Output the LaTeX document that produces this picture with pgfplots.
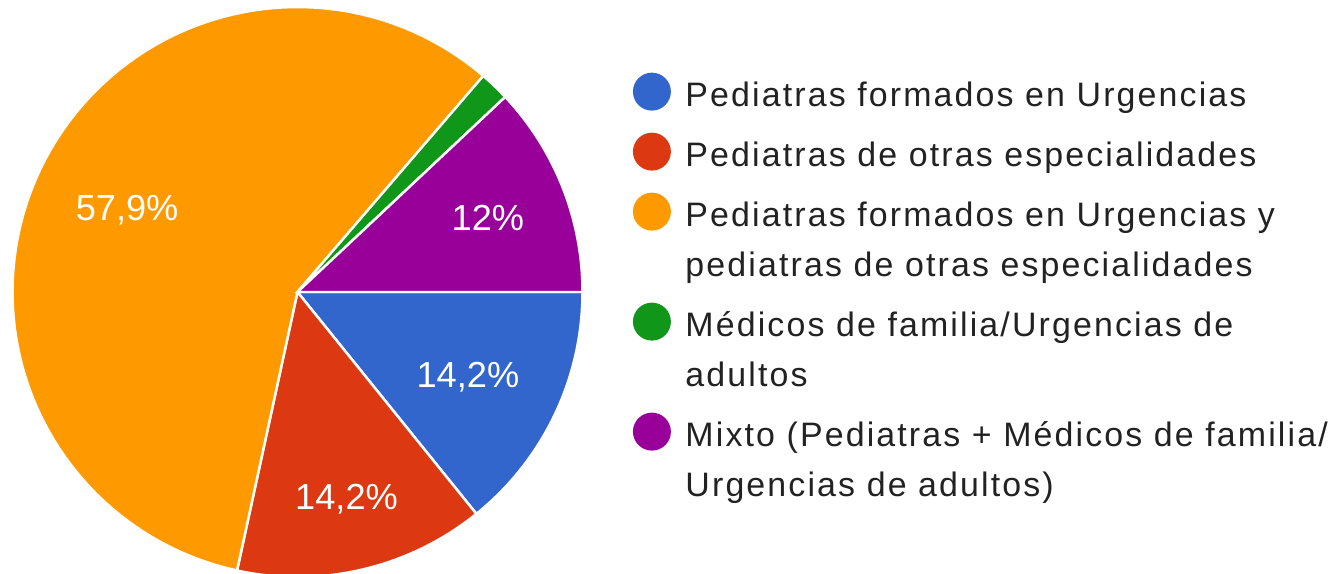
\documentclass[border=0pt]{standalone}
\usepackage{fontspec}
\setmainfont{Liberation Sans}
\newfontfamily\legfont[LetterSpace=6.3]{Liberation Sans}
\usepackage{pgfplots}
\pgfplotsset{compat=1.18}

\definecolor{gblue}{HTML}{3366CC}
\definecolor{gred}{HTML}{DC3912}
\definecolor{gorange}{HTML}{FF9900}
\definecolor{ggreen}{HTML}{109618}
\definecolor{gpurple}{HTML}{990099}
\definecolor{legtext}{HTML}{222222}

% one slice: colour, cumulative share at start and at end (percent),
% running clockwise from 3 o'clock
\newcommand{\slice}[3]{%
  \addplot[fill=#1, draw=white, line width=0.7pt,
    domain={-3.6*#3}:{-3.6*#2}, samples=90]
    ({cos(x)}, {sin(x)}) -- (axis cs:0,0) -- cycle;}

\newcommand{\entry}[1]{\begin{tabular}[t]{@{}l@{}}#1\end{tabular}}

\begin{document}
\begin{tikzpicture}
\useasboundingbox (0,0) rectangle (13.44cm,5.73cm);
\begin{axis}[
    at={(2.975cm,2.81cm)}, anchor=center,
    width=5.70cm, height=5.70cm, scale only axis,
    xmin=-1, xmax=1, ymin=-1, ymax=1,
    hide axis, clip=false,
    legend image code/.code={%
      \fill[#1, draw=none] (5.4pt,4.3pt) circle[radius=5.4pt];
      \path (0,0) (14.6pt,0);},
    legend style={
      at={(axis description cs:1.0851,0.8877)}, anchor=north west,
      draw=none, fill=none, inner sep=0pt, row sep=2.84pt,
      cells={anchor=base west},
      nodes={inner sep=0pt, text depth=, text=legtext,
             font=\legfont\fontsize{9.65}{14.23}\selectfont},
    },
  ]
  % shares: 14,2 / 14,2 / 57,9 / 1,7 / 12
  \slice{gblue}{0}{14.2}
  \addlegendentry{\entry{Pediatras formados en Urgencias}}
  \slice{gred}{14.2}{28.4}
  \addlegendentry{\entry{Pediatras de otras especialidades}}
  \slice{gorange}{28.4}{86.3}
  \addlegendentry{\entry{Pediatras formados en Urgencias y\\pediatras de otras especialidades}}
  \slice{ggreen}{86.3}{88.0}
  \addlegendentry{\entry{Médicos de familia/Urgencias de\\adultos}}
  \slice{gpurple}{88.0}{100}
  \addlegendentry{\entry{Mixto (Pediatras + Médicos de familia/\\Urgencias de adultos)}}

  \begin{scope}[every node/.style={text=white, font=\fontsize{10.3}{12}\selectfont}]
    \node at (axis cs:0.598,-0.298) {14,2\%};
    \node at (axis cs:0.172,-0.726) {14,2\%};
    \node at (axis cs:-0.598,0.288) {57,9\%};
    \node at (axis cs:0.668,0.261) {12\%};
  \end{scope}
\end{axis}
\end{tikzpicture}
\end{document}
